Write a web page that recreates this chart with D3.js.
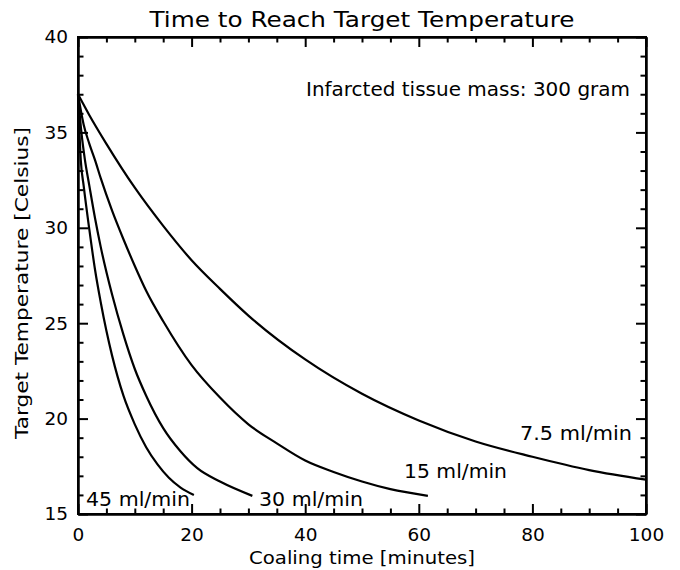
<!DOCTYPE html>
<html><head><meta charset="utf-8">
<script src="https://cdn.jsdelivr.net/npm/d3@7"></script>
<style>body{margin:0;background:#fff}</style>
</head><body>
<svg id="c" width="680" height="570"></svg>
<script>
// ---- data ----
const xMajorTicks = [0, 20, 40, 60, 80, 100];
const yMajorTicks = [15, 20, 25, 30, 35, 40];
const labels = ["7.5 ml/min", "15 ml/min", "30 ml/min", "45 ml/min"];

const t75  = [0, 2, 5, 10, 15, 20, 25, 30, 40, 50, 60, 70, 80, 90, 100];
const T75  = [37, 35.9, 34.4, 32.1, 30.1, 28.3, 26.8, 25.4, 23.1, 21.3, 19.9, 18.8, 18.0, 17.3, 16.8];

const t15  = [0, 1, 2, 3, 4, 6, 8, 10, 12, 15, 20, 25, 30, 35, 40, 45, 50, 55, 61.6];
const T15  = [37, 35.4, 34.4, 33.55, 32.6, 30.9, 29.4, 28.0, 26.7, 25.1, 22.8, 21.1, 19.7, 18.7, 17.8, 17.2, 16.7, 16.3, 15.95];

const t30  = [0, 0.6, 1.2, 2, 3, 4, 6, 8, 10, 12, 15, 18, 21, 25, 30.7];
const T30  = [37, 35.0, 33.6, 32.2, 30.5, 29.0, 26.5, 24.4, 22.6, 21.2, 19.5, 18.3, 17.4, 16.7, 15.95];

const t45  = [0, 0.5, 1, 2, 3, 4, 5, 6, 8, 10, 12, 14, 16, 18, 20.4];
const T45  = [37, 33.5, 32.2, 29.9, 27.8, 26.1, 24.6, 23.3, 21.2, 19.7, 18.5, 17.6, 16.9, 16.4, 16.0];

// ---- layout ----
const svg = d3.select("#c");
const L = 78, R = 646, T = 37, B = 514;
const x = d3.scaleLinear().domain([0, 100]).range([L, R]);
const y = d3.scaleLinear().domain([15, 40]).range([B, T]);
const FONT = "'DejaVu Sans', sans-serif";
const MAJ = 10, MIN = 5.5;

const xMinor = d3.range(0, 101, 5).filter(v => !xMajorTicks.includes(v));
const yMinor = d3.range(15, 41, 1).filter(v => !yMajorTicks.includes(v));

function styleAxis(g) {
  g.selectAll("path.domain").attr("stroke", "#000").attr("stroke-width", 2);
  g.selectAll(".tick line").attr("stroke", "#000").attr("stroke-width", 2);
  g.selectAll("text").attr("font-family", FONT).attr("font-size", 18.5).attr("fill", "#000");
}

// bottom
svg.append("g").attr("transform", `translate(0,${B})`)
  .call(d3.axisBottom(x).tickValues(xMajorTicks).tickSize(-MAJ).tickSizeOuter(0).tickPadding(14).tickFormat(d3.format("d")))
  .call(styleAxis);
svg.append("g").attr("transform", `translate(0,${B})`)
  .call(d3.axisBottom(x).tickValues(xMinor).tickSize(-MIN).tickSizeOuter(0).tickFormat(""))
  .call(styleAxis);
// top
svg.append("g").attr("transform", `translate(0,${T})`)
  .call(d3.axisTop(x).tickValues(xMajorTicks).tickSize(-MAJ).tickSizeOuter(0).tickFormat(""))
  .call(styleAxis);
svg.append("g").attr("transform", `translate(0,${T})`)
  .call(d3.axisTop(x).tickValues(xMinor).tickSize(-MIN).tickSizeOuter(0).tickFormat(""))
  .call(styleAxis);
// left
svg.append("g").attr("transform", `translate(${L},0)`)
  .call(d3.axisLeft(y).tickValues(yMajorTicks).tickSize(-MAJ).tickSizeOuter(0).tickPadding(10).tickFormat(d3.format("d")))
  .call(styleAxis);
svg.append("g").attr("transform", `translate(${L},0)`)
  .call(d3.axisLeft(y).tickValues(yMinor).tickSize(-MIN).tickSizeOuter(0).tickFormat(""))
  .call(styleAxis);
// right
svg.append("g").attr("transform", `translate(${R},0)`)
  .call(d3.axisRight(y).tickValues(yMajorTicks).tickSize(-MAJ).tickSizeOuter(0).tickFormat(""))
  .call(styleAxis);
svg.append("g").attr("transform", `translate(${R},0)`)
  .call(d3.axisRight(y).tickValues(yMinor).tickSize(-MIN).tickSizeOuter(0).tickFormat(""))
  .call(styleAxis);

// frame
svg.append("rect").attr("x", L).attr("y", T).attr("width", R - L).attr("height", B - T)
  .attr("fill", "none").attr("stroke", "#000").attr("stroke-width", 2);

// curves
const line = d3.line().x(d => x(d[0])).y(d => y(d[1])).curve(d3.curveMonotoneX);
const series = [[t75, T75], [t15, T15], [t30, T30], [t45, T45]];
series.forEach(([ts, Ts]) => {
  svg.append("path").datum(ts.map((t, i) => [t, Ts[i]]))
    .attr("d", line).attr("fill", "none").attr("stroke", "#000").attr("stroke-width", 2.2);
});

// texts
function txt(str, px, py, size, len, anchor) {
  const t = svg.append("text").attr("x", px).attr("y", py).text(str)
    .attr("font-family", FONT).attr("font-size", size).attr("fill", "#000")
    .attr("text-anchor", anchor || "start");
  if (len) t.attr("textLength", len).attr("lengthAdjust", "spacingAndGlyphs");
  return t;
}
txt("Time to Reach Target Temperature", 362, 27, 21, 425, "middle");
txt("Infarcted tissue mass: 300 gram", 306, 96, 19, 324);
txt("Coaling time [minutes]", 362, 564, 18, 226, "middle");
svg.append("text").attr("transform", `translate(28,283) rotate(-90)`)
  .attr("text-anchor", "middle").attr("font-family", FONT).attr("font-size", 18.5)
  .attr("textLength", 312).attr("lengthAdjust", "spacingAndGlyphs")
  .text("Target Temperature [Celsius]");

// curve labels
txt(labels[0], 520, 440, 19, 112);
txt(labels[1], 404, 478, 19, 103);
txt(labels[2], 259, 506, 19, 104);
txt(labels[3], 86, 506, 19, 104);
</script>
</body></html>
